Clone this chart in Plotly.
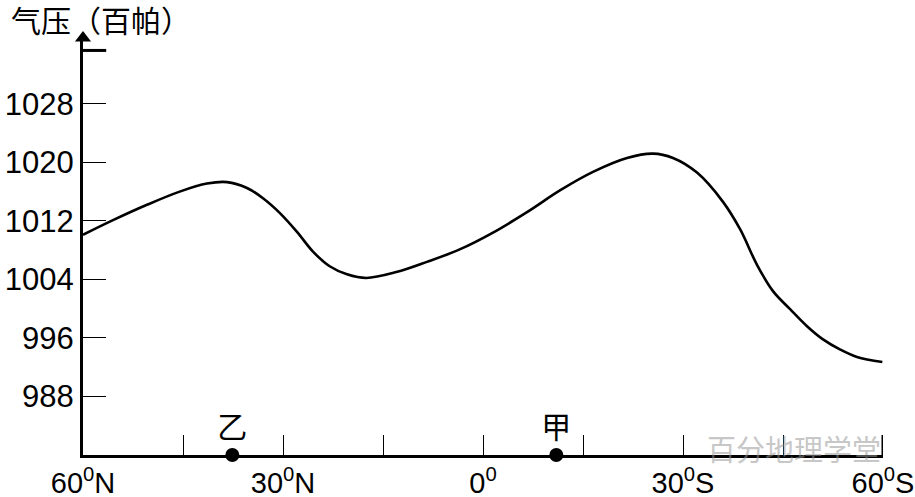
import plotly.graph_objects as go

# Latitude (N positive, S negative) and sea-level pressure (hPa)
lat = [60, 55.5, 50.4, 45.5, 41.4, 38.4, 35.4, 33.0, 30.5, 27.9, 25.5, 23.0, 20.4, 17.5,
       13.0, 8.4, 3.5, -1.5, -6.6, -11.6, -16.5, -21.6, -25.5, -28.5, -32.1, -36.0,
       -38.6, -41.1, -43.5, -46.1, -48.6, -51.0, -53.6, -56.1, -59.9]
pressure = [1010.1, 1012.1, 1014.2, 1016.0, 1017.1, 1017.3, 1016.5, 1015.1, 1013.1, 1010.5,
            1007.8, 1005.8, 1004.7, 1004.2, 1005.0, 1006.4, 1008.1, 1010.4, 1013.2,
            1016.2, 1018.7, 1020.6, 1021.2, 1020.6, 1018.6, 1014.6, 1010.8, 1006.0, 1002.4,
            999.9, 997.6, 995.8, 994.4, 993.4, 992.7]

y_ticks = [988, 996, 1004, 1012, 1020, 1028]
x_tickvals = [60, 45, 30, 15, 0, -15, -30, -45, -60]
x_ticktext = ["60<sup>0</sup>N", "", "30<sup>0</sup>N", "", "0<sup>0</sup>", "",
              "30<sup>0</sup>S", "", "60<sup>0</sup>S"]

point_names = ["乙", "甲"]
point_lat = [37.6, -11.0]
point_p = [980, 980]

y_min, y_max = 980, 1037
top_mark = 1035.3

fig = go.Figure()
fig.add_trace(go.Scatter(x=lat, y=pressure, mode="lines",
                         line=dict(color="black", width=2.6, shape="spline", smoothing=1.0),
                         hoverinfo="skip", showlegend=False))
fig.add_trace(go.Scatter(x=point_lat, y=point_p, mode="markers+text",
                         marker=dict(color="black", size=14),
                         text=point_names, textposition="top center",
                         textfont=dict(family="Noto Sans CJK SC", size=30, color="black"),
                         cliponaxis=False, showlegend=False))
# arrow head on the y axis
fig.add_trace(go.Scatter(x=[60], y=[y_max], mode="markers",
                         marker=dict(symbol="triangle-up", color="black", size=14),
                         cliponaxis=False, showlegend=False, hoverinfo="skip"))

# thick short tick near top of y axis and thick end tick at 60S
fig.add_shape(type="line", xref="paper", yref="y", x0=0, x1=0.029, y0=top_mark, y1=top_mark,
              line=dict(color="black", width=3))
fig.add_shape(type="line", xref="x", yref="paper", x0=-60, x1=-60, y0=0, y1=0.048,
              line=dict(color="black", width=3))

fig.add_annotation(text="气压（百帕）", xref="paper", yref="paper", x=-0.092, y=1.046,
                   xanchor="left", yanchor="middle", showarrow=False,
                   font=dict(family="Noto Sans CJK SC", size=30, color="black"))
fig.add_annotation(text="百分地理学堂", xref="x", yref="paper", x=-60, y=0.017,
                   xanchor="right", yanchor="middle", showarrow=False,
                   font=dict(family="Noto Sans CJK SC", size=29, color="rgba(150,150,150,0.55)"))

fig.update_xaxes(range=[60, -60], tickvals=x_tickvals, ticktext=x_ticktext,
                 ticks="inside", ticklen=20, tickwidth=1, tickcolor="black",
                 showline=True, linecolor="black", linewidth=3, showgrid=False,
                 zeroline=False, automargin=False, ticklabeloverflow="allow",
                 tickfont=dict(family="Liberation Sans", size=29, color="black"))
fig.update_yaxes(range=[y_min, y_max], tickvals=y_ticks,
                 ticks="inside", ticklen=23, tickwidth=1, tickcolor="black",
                 showline=True, linecolor="black", linewidth=3, showgrid=False,
                 zeroline=False, automargin=False,
                 tickfont=dict(family="Liberation Sans", size=31, color="black"))

fig.update_layout(width=915, height=497, margin=dict(l=83, r=32, t=38, b=42),
                  plot_bgcolor="white", paper_bgcolor="white", showlegend=False)

fig.write_html("out.html", config={"displayModeBar": False},
               post_script="document.body.style.margin='0';document.body.style.overflow='hidden';")
